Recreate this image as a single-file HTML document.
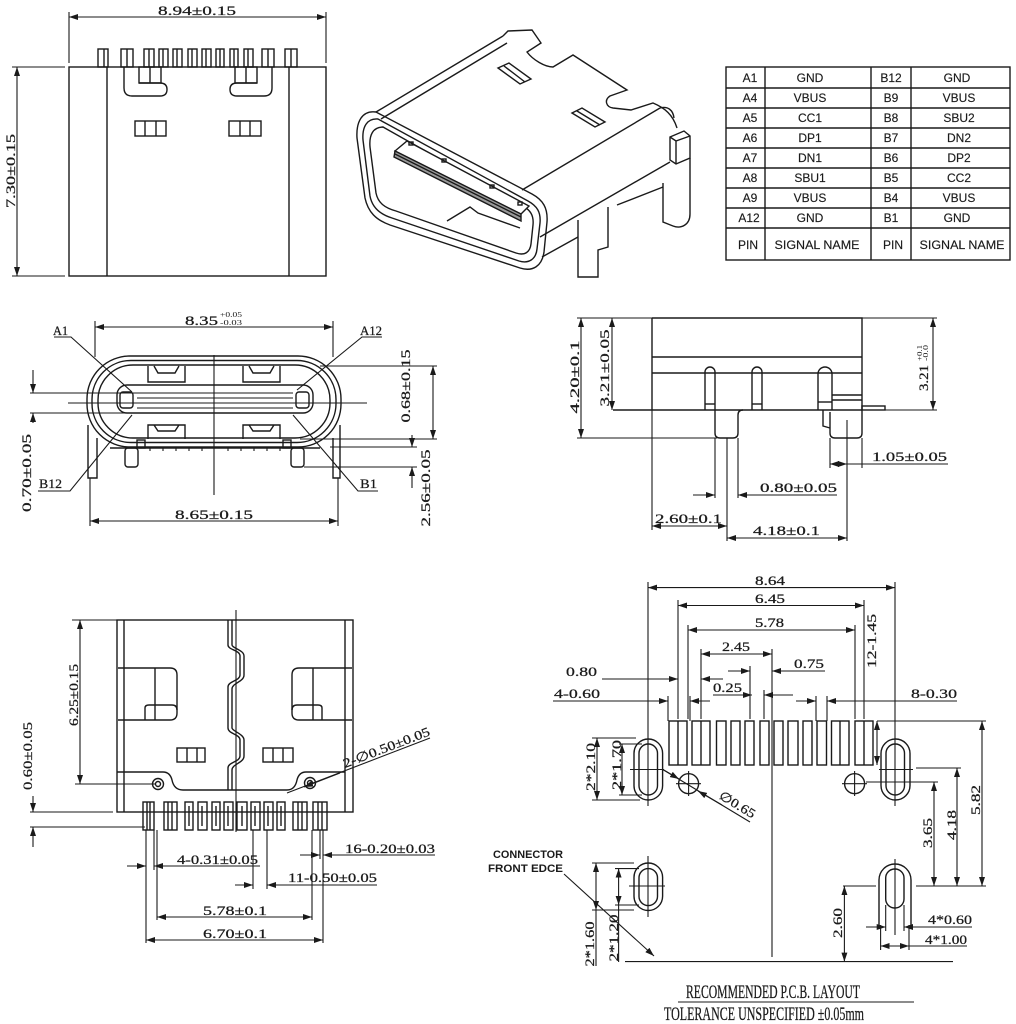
<!DOCTYPE html>
<html><head><meta charset="utf-8"><style>
html,body{margin:0;padding:0;background:#fff}
svg{display:block}
.l{stroke:#1a1a1a;stroke-width:1.4;fill:none}
.d{stroke:#1a1a1a;stroke-width:1.1;fill:none}
.b{marker-start:url(#a);marker-end:url(#a)}
.e{marker-end:url(#a)}
text{font-family:"Liberation Serif","DejaVu Serif",serif;fill:#1a1a1a;font-size:13px;stroke:#1a1a1a;stroke-width:0.25}
.s{font-family:"Liberation Sans","DejaVu Sans",sans-serif;font-size:12px;stroke-width:0.15}
.cn{font-family:"Liberation Sans","DejaVu Sans",sans-serif;font-size:11px;font-weight:bold;stroke-width:0}
.sm{font-size:7px;stroke-width:0}
text.ti{font-size:19px}
</style></head><body>
<svg width="1016" height="1024" viewBox="0 0 1016 1024" xmlns="http://www.w3.org/2000/svg">
<defs><marker id="a" viewBox="0 0 9 6" refX="9" refY="3" markerWidth="9" markerHeight="6" markerUnits="userSpaceOnUse" orient="auto-start-reverse"><path d="M0,0L9,3L0,6z" fill="#1a1a1a"/></marker></defs>
<rect width="1016" height="1024" fill="#fff"/>

<!-- ===== TOP-LEFT VIEW ===== -->
<g class="l">
<rect x="69" y="67" width="257" height="209"/>
<line x1="107" y1="67" x2="107" y2="276"/>
<line x1="289" y1="67" x2="289" y2="276"/>
<rect x="98" y="49" width="10" height="18"/><line x1="104" y1="49" x2="104" y2="67"/>
<rect x="121" y="49" width="12" height="18"/><line x1="127" y1="49" x2="127" y2="67"/>
<rect x="144" y="49" width="10" height="18"/><line x1="149" y1="49" x2="149" y2="67"/>
<rect x="159" y="49" width="9" height="18"/><line x1="163" y1="49" x2="163" y2="67"/>
<rect x="173" y="49" width="9" height="18"/><line x1="177" y1="49" x2="177" y2="67"/>
<rect x="188" y="49" width="9" height="18"/><line x1="192" y1="49" x2="192" y2="67"/>
<rect x="202" y="49" width="9" height="18"/><line x1="206" y1="49" x2="206" y2="67"/>
<rect x="216" y="49" width="8" height="18"/><line x1="220" y1="49" x2="220" y2="67"/>
<rect x="230" y="49" width="8" height="18"/><line x1="234" y1="49" x2="234" y2="67"/>
<rect x="244" y="49" width="9" height="18"/><line x1="248" y1="49" x2="248" y2="67"/>
<rect x="262" y="49" width="12" height="18"/><line x1="268" y1="49" x2="268" y2="67"/>
<rect x="285" y="49" width="12" height="18"/><line x1="291" y1="49" x2="291" y2="67"/>
<path d="M124,67 V88 Q124,96 132,96 H160 Q167,96 167,89.5 Q167,83 160,83 H139"/>
<rect x="139" y="67" width="22" height="16"/><line x1="150" y1="67" x2="150" y2="83"/>
<path d="M272,67 V88 Q272,96 264,96 H237 Q230,96 230,89.5 Q230,83 237,83 H257"/>
<rect x="235" y="67" width="22" height="16"/><line x1="246" y1="67" x2="246" y2="83"/>
<rect x="135" y="121" width="31" height="15"/><line x1="145" y1="121" x2="145" y2="136"/><line x1="156" y1="121" x2="156" y2="136"/>
<rect x="229" y="121" width="32" height="15"/><line x1="240" y1="121" x2="240" y2="136"/><line x1="250" y1="121" x2="250" y2="136"/>
</g>
<g class="d">
<line class="b" x1="69" y1="17" x2="326" y2="17"/>
<line x1="69" y1="12" x2="69" y2="63"/><line x1="326" y1="12" x2="326" y2="63"/>
<line class="b" x1="17" y1="67" x2="17" y2="276"/>
<line x1="12" y1="67" x2="65" y2="67"/><line x1="12" y1="276" x2="65" y2="276"/>
</g>
<text x="197" y="15" text-anchor="middle" textLength="78" lengthAdjust="spacingAndGlyphs">8.94±0.15</text>
<text transform="translate(15,171) rotate(-90)" text-anchor="middle" textLength="74" lengthAdjust="spacingAndGlyphs">7.30±0.15</text>

<!-- ===== 3D VIEW ===== -->
<g class="l" stroke-width="1.3">
<path d="M376,112 C362,110 356,122 357,138 L365,198 C368,212 376,220 390,225 L520,268 C533,272 542,266 544,252 L547,222 C548,208 543,200 532,194 Z"/>
<path d="M378,119 C367,118 362,127 363,140 L370,196 C372,207 379,214 392,218 L519,261 C529,264 536,259 537,249 L540,223 C541,212 537,206 528,201 Z"/>
<path d="M383,127 C373,127 369,135 370,147 L376,193 C378,203 385,208 396,211 L516,253 C525,256 530,252 531,244 L533,225 C534,215 530,210 523,206 Z"/>
<polygon points="395,151 407,141 529,206 521,214" fill="#fff"/>
<polygon points="395,151 521,214 521,221 394,157" fill="#999"/>
<line x1="395" y1="154" x2="521" y2="217"/>
<rect x="409" y="142" width="4" height="3"/><rect x="442" y="159" width="4" height="3"/><rect x="490" y="185" width="4" height="3"/><rect x="518" y="202" width="4" height="3"/>
<path d="M447,221 L470,207 L478,213 L520,228"/>
<line x1="376" y1="112" x2="503" y2="36"/>
<line x1="381" y1="119" x2="507" y2="43"/>
<path d="M503,36 L508,31 L532,30 L541,43 L527,52 C533,60 545,67 553,67 L573,55 L627,90 L610,96 C604,100 606,107 613,108 L631,110 L653,103 C665,108 673,115 677,128"/>
<line x1="522" y1="190" x2="660" y2="108"/>
<path d="M660,108 C668,106 673,110 674,118"/>
<path d="M670,137 L684,131 L690,136 L690,158 L676,164 L670,160 Z"/>
<path d="M670,137 L676,141 L690,136 M676,141 V164"/>
<path d="M690,158 L690,214 C690,225 681,229 673,226 L663,222 L663,183"/>
<line x1="540" y1="237" x2="670" y2="162"/>
<line x1="542" y1="257" x2="578" y2="237"/>
<line x1="617" y1="205" x2="663" y2="187"/>
<path d="M578,220 L578,277 L598,277 L598,250 L608,247 L608,207"/>
<path d="M498,68 L509,63 L531,79 L520,84 Z M504,66 L525,82"/>
<path d="M572,113 L582,108 L605,122 L595,127 Z M577,111 L600,125"/>
</g>

<!-- ===== PIN TABLE ===== -->
<g class="l" stroke-width="1.5">
<rect x="726" y="67" width="284" height="193"/>
<line x1="765" y1="67" x2="765" y2="260"/>
<line x1="871" y1="67" x2="871" y2="260"/>
<line x1="911" y1="67" x2="911" y2="260"/>
<line x1="726" y1="88" x2="1010" y2="88"/>
<line x1="726" y1="108" x2="1010" y2="108"/>
<line x1="726" y1="128" x2="1010" y2="128"/>
<line x1="726" y1="148" x2="1010" y2="148"/>
<line x1="726" y1="168" x2="1010" y2="168"/>
<line x1="726" y1="188" x2="1010" y2="188"/>
<line x1="726" y1="208" x2="1010" y2="208"/>
<line x1="726" y1="228" x2="1010" y2="228"/>
</g>
<g text-anchor="middle">
<text class="s" x="750" y="82">A1</text><text class="s" x="810" y="82">GND</text><text class="s" x="891" y="82">B12</text><text class="s" x="957" y="82">GND</text>
<text class="s" x="750" y="102">A4</text><text class="s" x="810" y="102">VBUS</text><text class="s" x="891" y="102">B9</text><text class="s" x="959" y="102">VBUS</text>
<text class="s" x="750" y="122">A5</text><text class="s" x="810" y="122">CC1</text><text class="s" x="891" y="122">B8</text><text class="s" x="959" y="122">SBU2</text>
<text class="s" x="750" y="142">A6</text><text class="s" x="810" y="142">DP1</text><text class="s" x="891" y="142">B7</text><text class="s" x="959" y="142">DN2</text>
<text class="s" x="750" y="162">A7</text><text class="s" x="810" y="162">DN1</text><text class="s" x="891" y="162">B6</text><text class="s" x="959" y="162">DP2</text>
<text class="s" x="750" y="182">A8</text><text class="s" x="810" y="182">SBU1</text><text class="s" x="891" y="182">B5</text><text class="s" x="959" y="182">CC2</text>
<text class="s" x="750" y="202">A9</text><text class="s" x="810" y="202">VBUS</text><text class="s" x="891" y="202">B4</text><text class="s" x="959" y="202">VBUS</text>
<text class="s" x="749" y="222">A12</text><text class="s" x="810" y="222">GND</text><text class="s" x="891" y="222">B1</text><text class="s" x="957" y="222">GND</text>
<text class="s" x="748" y="249">PIN</text><text class="s" x="817" y="249" textLength="85" lengthAdjust="spacingAndGlyphs">SIGNAL NAME</text><text class="s" x="893" y="249">PIN</text><text class="s" x="962" y="249" textLength="85" lengthAdjust="spacingAndGlyphs">SIGNAL NAME</text>
</g>

<!-- ===== FRONT VIEW (middle-left) ===== -->
<g class="l">
<rect x="87" y="356" width="254" height="91" rx="43"/>
<rect x="92" y="360.5" width="244" height="82" rx="39"/>
<rect x="98" y="365" width="232" height="73" rx="35"/>
<rect x="117" y="385" width="196" height="28" rx="10"/>
<rect x="120" y="392" width="13" height="16" rx="3"/>
<rect x="296" y="392" width="13" height="16" rx="3"/>
<path d="M148,366 V382 H185 V366 M154,366 L158,373 H175 L179,366"/>
<path d="M243,366 V382 H280 V366 M249,366 L253,373 H270 L274,366"/>
<path d="M148,439 V425 H185 V439 M154,425 L158,431 H175 L179,425"/>
<path d="M243,439 V425 H280 V439 M249,425 L253,431 H270 L274,425"/>
<rect x="125" y="448" width="13" height="19" rx="3"/>
<rect x="291" y="448" width="13" height="19" rx="3"/>
<rect x="137" y="440" width="8" height="8"/>
<rect x="283" y="440" width="8" height="8"/>
<path d="M88,425 V478 H97 V438"/>
<path d="M340,425 V478 H333 V438"/>
<line x1="110" y1="448" x2="320" y2="448"/>
</g>
<g class="d">
<line x1="137" y1="393" x2="293" y2="393"/>
<line x1="137" y1="398" x2="293" y2="398"/>
<line x1="137" y1="408" x2="293" y2="408"/>
<path d="M150,448 v3 M163,448 v3 M176,448 v3 M189,448 v3 M202,448 v3 M228,448 v3 M241,448 v3 M254,448 v3 M267,448 v3 M280,448 v3"/>
<line class="b" x1="95" y1="327" x2="333" y2="327"/>
<line x1="95" y1="321" x2="95" y2="357"/><line x1="333" y1="321" x2="333" y2="357"/>
<line class="b" x1="90" y1="521" x2="338" y2="521"/>
<line x1="90" y1="478" x2="90" y2="526"/><line x1="338" y1="478" x2="338" y2="526"/>
<line x1="214" y1="355" x2="214" y2="495"/>
<line x1="68" y1="403" x2="367" y2="403"/>
<line x1="30" y1="393" x2="137" y2="393"/>
<line x1="30" y1="413" x2="137" y2="413"/>
<line class="e" x1="33" y1="370" x2="33" y2="393"/>
<line class="e" x1="33" y1="423" x2="33" y2="413"/>
<line x1="320" y1="366" x2="437" y2="366"/>
<line x1="300" y1="439" x2="437" y2="439"/>
<line class="b" x1="433" y1="366" x2="433" y2="439"/>
<line x1="330" y1="447" x2="417" y2="447"/>
<line x1="304" y1="467" x2="417" y2="467"/>
<line class="e" x1="412" y1="435" x2="412" y2="447"/>
<line class="e" x1="412" y1="488" x2="412" y2="467"/>
<polyline points="54,337 71,337 132,392"/>
<polyline points="382,337 362,337 297,390"/>
<polyline points="38,491 70,491 132,415"/>
<polyline points="378,491 358,491 293,415"/>
</g>
<text x="185" y="325" textLength="33" lengthAdjust="spacingAndGlyphs">8.35</text>
<text class="sm" x="220" y="317" textLength="22" lengthAdjust="spacingAndGlyphs">+0.05</text>
<text class="sm" x="220" y="325" textLength="22" lengthAdjust="spacingAndGlyphs">-0.03</text>
<text x="53" y="335" textLength="15" lengthAdjust="spacingAndGlyphs">A1</text>
<text x="360" y="335" textLength="22" lengthAdjust="spacingAndGlyphs">A12</text>
<text x="39" y="488" textLength="23" lengthAdjust="spacingAndGlyphs">B12</text>
<text x="360" y="488" textLength="17" lengthAdjust="spacingAndGlyphs">B1</text>
<text transform="translate(31,473) rotate(-90)" text-anchor="middle" textLength="78" lengthAdjust="spacingAndGlyphs">0.70±0.05</text>
<text transform="translate(410,386) rotate(-90)" text-anchor="middle" textLength="73" lengthAdjust="spacingAndGlyphs">0.68±0.15</text>
<text transform="translate(430,488) rotate(-90)" text-anchor="middle" textLength="77" lengthAdjust="spacingAndGlyphs">2.56±0.05</text>
<text x="214" y="519" text-anchor="middle" textLength="78" lengthAdjust="spacingAndGlyphs">8.65±0.15</text>

<!-- ===== SIDE VIEW (middle-right) ===== -->
<g class="l">
<path d="M652,318 H862 V410 M652,318 V410"/>
<line x1="652" y1="357" x2="862" y2="357"/>
<line x1="652" y1="373" x2="862" y2="373"/>
<line x1="613" y1="410" x2="862" y2="410"/>
<path d="M705,410 V372 A5,5 0 0 1 715,372 V410"/>
<line x1="705" y1="404" x2="715" y2="404"/>
<path d="M752,410 V372 A5,5 0 0 1 762,372 V410"/>
<line x1="752" y1="404" x2="762" y2="404"/>
<path d="M818,410 V374 A7,7 0 0 1 832,374 V410"/>
<line x1="818" y1="402" x2="832" y2="402"/>
<line x1="832" y1="395" x2="862" y2="395"/>
<line x1="832" y1="400" x2="862" y2="400"/>
<rect x="862" y="406" width="23" height="4"/>
<path d="M715,410 V433 Q715,438 720,438 H733 Q738,438 738,433 V415 Q738,410 743,410"/>
<path d="M830,412 V433 Q830,438 835,438 H857 Q862,438 862,433 V410"/>
<path d="M823,410 V426 L830,428"/>
</g>
<g class="d">
<line x1="577" y1="318" x2="652" y2="318"/>
<line x1="862" y1="318" x2="937" y2="318"/>
<line x1="885" y1="410" x2="937" y2="410"/>
<line x1="577" y1="438" x2="717" y2="438"/>
<line class="b" x1="581" y1="318" x2="581" y2="438"/>
<line class="b" x1="612" y1="318" x2="612" y2="410"/>
<line class="b" x1="933" y1="318" x2="933" y2="410"/>
<line x1="715" y1="438" x2="715" y2="498"/>
<line x1="738" y1="438" x2="738" y2="498"/>
<line x1="727" y1="438" x2="727" y2="541"/>
<line x1="652" y1="410" x2="652" y2="530"/>
<line x1="847" y1="420" x2="847" y2="541"/>
<line x1="830" y1="438" x2="830" y2="468"/>
<line x1="862" y1="438" x2="862" y2="468"/>
<line class="b" x1="830" y1="464" x2="847" y2="464"/>
<line x1="847" y1="464" x2="948" y2="464"/>
<line class="e" x1="693" y1="495" x2="715" y2="495"/>
<line class="e" x1="837" y1="495" x2="738" y2="495"/>
<line class="b" x1="652" y1="526" x2="727" y2="526"/>
<line class="b" x1="727" y1="538" x2="847" y2="538"/>
</g>
<text transform="translate(579,377) rotate(-90)" text-anchor="middle" textLength="73" lengthAdjust="spacingAndGlyphs">4.20±0.1</text>
<text transform="translate(609,368) rotate(-90)" text-anchor="middle" textLength="77" lengthAdjust="spacingAndGlyphs">3.21±0.05</text>
<text transform="translate(928,378) rotate(-90)" text-anchor="middle" textLength="26" lengthAdjust="spacingAndGlyphs">3.21</text>
<text class="sm" transform="translate(922,353) rotate(-90)" text-anchor="middle" textLength="16" lengthAdjust="spacingAndGlyphs">+0.1</text>
<text class="sm" transform="translate(928,353) rotate(-90)" text-anchor="middle" textLength="16" lengthAdjust="spacingAndGlyphs">-0.0</text>
<text x="872" y="461" textLength="75" lengthAdjust="spacingAndGlyphs">1.05±0.05</text>
<text x="760" y="492" textLength="77" lengthAdjust="spacingAndGlyphs">0.80±0.05</text>
<text x="655" y="523" textLength="67" lengthAdjust="spacingAndGlyphs">2.60±0.1</text>
<text x="753" y="535" textLength="67" lengthAdjust="spacingAndGlyphs">4.18±0.1</text>

<!-- ===== BOTTOM VIEW (bottom-left) ===== -->
<g class="l">
<rect x="117" y="620" width="236" height="192"/>
<line x1="124" y1="620" x2="124" y2="812"/>
<line x1="345" y1="620" x2="345" y2="812"/>
<path d="M228,620 V645 C228,650 240,650 240,656 V675 C240,681 228,681 228,687 V728 C228,734 240,734 240,740 V756 C240,762 228,762 228,768 V790"/>
<path d="M232,620 V645 C232,648 244,650 244,656 V675 C244,682 232,683 232,689 V728 C232,731 244,734 244,740 V756 C244,763 232,764 232,770 V790"/>
<path d="M118,668 H170 Q177,668 177,675 V713 Q177,720 170,720 H118"/>
<line x1="155" y1="668" x2="155" y2="720"/>
<path d="M145,720 V708 Q145,705 149,705 H172 Q177,705 177,710"/>
<path d="M352,668 H299 Q292,668 292,675 V713 Q292,720 299,720 H352"/>
<line x1="313" y1="668" x2="313" y2="720"/>
<path d="M322,720 V708 Q322,705 318,705 H297 Q292,705 292,710"/>
<rect x="177" y="748" width="28" height="14"/><line x1="187" y1="748" x2="187" y2="762"/><line x1="197" y1="748" x2="197" y2="762"/>
<rect x="263" y="748" width="30" height="14"/><line x1="273" y1="748" x2="273" y2="762"/><line x1="283" y1="748" x2="283" y2="762"/>
<path d="M117,772 H163 Q170,772 172,780 Q174,790 183,790 H287 Q295,790 297,780 Q299,772 306,772 H345"/>
<circle cx="158" cy="784" r="5.5"/><circle cx="158" cy="784" r="2.5"/>
<circle cx="310" cy="783" r="5.5"/><circle cx="310" cy="783" r="2.5"/>
<rect x="143" y="802" width="11" height="28"/><line x1="147" y1="802" x2="147" y2="830"/><line x1="150" y1="802" x2="150" y2="830"/>
<rect x="164" y="802" width="13" height="28"/><line x1="168" y1="802" x2="168" y2="830"/><line x1="172" y1="802" x2="172" y2="830"/>
<rect x="185" y="802" width="8" height="28"/><line x1="189" y1="806" x2="189" y2="826"/>
<rect x="198" y="802" width="9" height="28"/><line x1="202" y1="806" x2="202" y2="826"/>
<rect x="212" y="802" width="8" height="28"/><line x1="216" y1="806" x2="216" y2="826"/>
<rect x="224" y="802" width="9" height="28"/><line x1="228" y1="806" x2="228" y2="826"/>
<rect x="237" y="802" width="10" height="28"/><line x1="242" y1="806" x2="242" y2="826"/>
<rect x="251" y="802" width="9" height="28"/><line x1="255" y1="806" x2="255" y2="826"/>
<rect x="264" y="802" width="9" height="28"/><line x1="268" y1="806" x2="268" y2="826"/>
<rect x="277" y="802" width="8" height="28"/><line x1="281" y1="806" x2="281" y2="826"/>
<rect x="293" y="802" width="14" height="28"/><line x1="298" y1="802" x2="298" y2="830"/><line x1="302" y1="802" x2="302" y2="830"/>
<rect x="313" y="802" width="14" height="28"/><line x1="318" y1="802" x2="318" y2="830"/><line x1="322" y1="802" x2="322" y2="830"/>
</g>
<g class="d">
<line x1="236" y1="610" x2="236" y2="832"/>
<line x1="72" y1="620" x2="117" y2="620"/>
<line x1="75" y1="784" x2="155" y2="784"/>
<line class="b" x1="80" y1="620" x2="80" y2="784"/>
<line x1="30" y1="812" x2="113" y2="812"/>
<line x1="30" y1="827" x2="145" y2="827"/>
<line class="e" x1="33" y1="796" x2="33" y2="812"/>
<line class="e" x1="33" y1="847" x2="33" y2="827"/>
<line x1="430" y1="738" x2="287" y2="793"/>
<line class="e" x1="340" y1="773" x2="304" y2="787"/>
<line x1="146" y1="830" x2="146" y2="943"/>
<line x1="154" y1="830" x2="154" y2="870"/>
<line x1="157" y1="830" x2="157" y2="920"/>
<line x1="253" y1="830" x2="253" y2="889"/>
<line x1="267" y1="830" x2="267" y2="889"/>
<line x1="312" y1="830" x2="312" y2="920"/>
<line x1="320" y1="830" x2="320" y2="859"/>
<line x1="323" y1="830" x2="323" y2="943"/>
<line class="e" x1="127" y1="866" x2="146" y2="866"/>
<line class="e" x1="260" y1="866" x2="154" y2="866"/>
<line class="e" x1="300" y1="855" x2="320" y2="855"/>
<line class="e" x1="435" y1="855" x2="323" y2="855"/>
<line class="e" x1="235" y1="885" x2="253" y2="885"/>
<line class="e" x1="377" y1="885" x2="267" y2="885"/>
<line class="b" x1="157" y1="917" x2="312" y2="917"/>
<line class="b" x1="146" y1="940" x2="323" y2="940"/>
</g>
<text transform="translate(78,695) rotate(-90)" text-anchor="middle" textLength="62" lengthAdjust="spacingAndGlyphs">6.25±0.15</text>
<text transform="translate(32,756) rotate(-90)" text-anchor="middle" textLength="68" lengthAdjust="spacingAndGlyphs">0.60±0.05</text>
<text transform="translate(345,768) rotate(-21)" textLength="92" lengthAdjust="spacingAndGlyphs">2-∅0.50±0.05</text>
<text x="177" y="864" textLength="81" lengthAdjust="spacingAndGlyphs">4-0.31±0.05</text>
<text x="345" y="853" textLength="90" lengthAdjust="spacingAndGlyphs">16-0.20±0.03</text>
<text x="288" y="882" textLength="89" lengthAdjust="spacingAndGlyphs">11-0.50±0.05</text>
<text x="203" y="915" textLength="64" lengthAdjust="spacingAndGlyphs">5.78±0.1</text>
<text x="203" y="938" textLength="64" lengthAdjust="spacingAndGlyphs">6.70±0.1</text>

<!-- ===== PCB LAYOUT ===== -->
<g class="l">
<rect x="669" y="721" width="18" height="44"/><line x1="678" y1="721" x2="678" y2="765"/>
<rect x="692" y="721" width="18" height="44"/><line x1="701" y1="721" x2="701" y2="765"/>
<rect x="716.5" y="721" width="9.5" height="44"/>
<rect x="731" y="721" width="9" height="44"/>
<rect x="745" y="721" width="9" height="44"/>
<rect x="760" y="721" width="9" height="44"/>
<rect x="774" y="721" width="9" height="44"/>
<rect x="788" y="721" width="10" height="44"/>
<rect x="803" y="721" width="9" height="44"/>
<rect x="817" y="721" width="9.5" height="44"/>
<rect x="831.5" y="721" width="17.5" height="44"/><line x1="840" y1="721" x2="840" y2="765"/>
<rect x="855" y="721" width="18" height="44"/><line x1="864" y1="721" x2="864" y2="765"/>
<rect x="634" y="739" width="28.6" height="61" rx="14.3"/>
<rect x="639" y="744" width="18.5" height="51" rx="9.2"/>
<rect x="881" y="739" width="29" height="61" rx="14.5"/>
<rect x="886" y="744" width="18.5" height="51" rx="9.2"/>
<circle cx="688.6" cy="783.7" r="10"/>
<circle cx="854.6" cy="783.7" r="10"/>
<rect x="634" y="863" width="28.6" height="47.5" rx="14.3"/>
<rect x="639" y="868.6" width="18.5" height="37" rx="9.2"/>
<path d="M879,927 V880 A16,16 0 0 1 911,880 V927"/>
<rect x="885.7" y="869" width="18.3" height="39" rx="9"/>
</g>
<g class="d">
<line class="b" x1="648" y1="587.6" x2="895" y2="587.6"/>
<line class="b" x1="678" y1="605.5" x2="864" y2="605.5"/>
<line class="b" x1="688" y1="630" x2="855" y2="630"/>
<line class="b" x1="701" y1="654" x2="772" y2="654"/>
<line x1="648" y1="582" x2="648" y2="806"/>
<line x1="895" y1="582" x2="895" y2="806"/>
<line x1="678" y1="600" x2="678" y2="719"/>
<line x1="864" y1="600" x2="864" y2="719"/>
<line x1="688" y1="625" x2="688" y2="719"/>
<line x1="855" y1="625" x2="855" y2="719"/>
<line x1="701" y1="649" x2="701" y2="719"/>
<line x1="772" y1="649" x2="772" y2="957"/>
<line x1="750" y1="666" x2="750" y2="719"/>
<line x1="764" y1="690" x2="764" y2="719"/>
<line x1="668" y1="696" x2="668" y2="721"/>
<line x1="690" y1="696" x2="690" y2="721"/>
<line x1="816" y1="696" x2="816" y2="721"/>
<line x1="827" y1="696" x2="827" y2="721"/>
<line class="e" x1="728" y1="671" x2="750" y2="671"/>
<line class="e" x1="825" y1="671" x2="772" y2="671"/>
<line class="e" x1="602" y1="679" x2="678" y2="679"/>
<line class="e" x1="723" y1="679" x2="701" y2="679"/>
<line class="e" x1="713" y1="695" x2="752" y2="695"/>
<line class="e" x1="793" y1="695" x2="764" y2="695"/>
<line class="e" x1="553" y1="701" x2="668" y2="701"/>
<line class="e" x1="710" y1="701" x2="690" y2="701"/>
<line class="e" x1="796" y1="701" x2="816" y2="701"/>
<line class="e" x1="957" y1="701" x2="827" y2="701"/>
<line class="b" x1="877" y1="721" x2="877" y2="765"/>
<line x1="630" y1="769.5" x2="664" y2="769.5"/>
<line x1="879" y1="769.5" x2="913" y2="769.5"/>
<line x1="676" y1="783.7" x2="701" y2="783.7"/><line x1="688.6" y1="771" x2="688.6" y2="796"/>
<line x1="842" y1="783.7" x2="867" y2="783.7"/><line x1="854.6" y1="771" x2="854.6" y2="796"/>
<line x1="662" y1="769" x2="750" y2="822"/>
<line class="e" x1="662" y1="769" x2="679" y2="779"/>
<line class="e" x1="722" y1="805" x2="698" y2="791"/>
<line x1="592" y1="738" x2="636" y2="738"/>
<line x1="592" y1="800" x2="640" y2="800"/>
<line class="b" x1="597" y1="738" x2="597" y2="800"/>
<line x1="619" y1="744" x2="642" y2="744"/>
<line x1="619" y1="795" x2="642" y2="795"/>
<line class="b" x1="622" y1="744" x2="622" y2="795"/>
<line x1="877" y1="721" x2="986" y2="721"/>
<line x1="916" y1="768" x2="961" y2="768"/>
<line x1="866" y1="782" x2="938" y2="782"/>
<line x1="916" y1="886" x2="986" y2="886"/>
<line x1="843" y1="886" x2="876" y2="886"/>
<line class="b" x1="982" y1="721" x2="982" y2="886"/>
<line class="b" x1="957" y1="768" x2="957" y2="886"/>
<line class="b" x1="934" y1="782" x2="934" y2="886"/>
<line x1="629" y1="886" x2="665" y2="886"/>
<line x1="648" y1="856" x2="648" y2="917"/>
<line x1="895" y1="859" x2="895" y2="935"/>
<line x1="592" y1="863" x2="634" y2="863"/>
<line x1="592" y1="910" x2="634" y2="910"/>
<line x1="615" y1="868.6" x2="639" y2="868.6"/>
<line x1="615" y1="905" x2="639" y2="905"/>
<line class="b" x1="596" y1="863" x2="596" y2="910"/>
<line x1="596" y1="910" x2="596" y2="966"/>
<line class="b" x1="618.6" y1="868.6" x2="618.6" y2="905"/>
<line x1="618.6" y1="905" x2="618.6" y2="962"/>
<line x1="625" y1="961.6" x2="953" y2="961.6"/>
<line class="b" x1="844.4" y1="886" x2="844.4" y2="961.6"/>
<line x1="885.7" y1="905" x2="885.7" y2="931"/>
<line x1="904" y1="905" x2="904" y2="931"/>
<line x1="880.6" y1="925" x2="880.6" y2="950"/>
<line x1="909" y1="925" x2="909" y2="950"/>
<line class="e" x1="866" y1="927" x2="885.7" y2="927"/>
<line class="e" x1="972" y1="927" x2="904" y2="927"/>
<line class="b" x1="880.6" y1="946" x2="909" y2="946"/>
<line x1="909" y1="946" x2="967" y2="946"/>
<line class="e" x1="564" y1="874" x2="654" y2="956"/>
<line x1="678" y1="1002" x2="914" y2="1002"/>
</g>
<text x="755" y="585" textLength="30" lengthAdjust="spacingAndGlyphs">8.64</text>
<text x="755" y="603" textLength="30" lengthAdjust="spacingAndGlyphs">6.45</text>
<text x="755" y="627" textLength="29" lengthAdjust="spacingAndGlyphs">5.78</text>
<text x="722" y="651" textLength="28" lengthAdjust="spacingAndGlyphs">2.45</text>
<text x="794" y="668" textLength="30" lengthAdjust="spacingAndGlyphs">0.75</text>
<text x="566" y="676" textLength="31" lengthAdjust="spacingAndGlyphs">0.80</text>
<text x="713" y="692" textLength="29" lengthAdjust="spacingAndGlyphs">0.25</text>
<text x="554" y="698" textLength="46" lengthAdjust="spacingAndGlyphs">4-0.60</text>
<text x="911" y="698" textLength="46" lengthAdjust="spacingAndGlyphs">8-0.30</text>
<text transform="translate(876,641) rotate(-90)" text-anchor="middle" textLength="54" lengthAdjust="spacingAndGlyphs">12-1.45</text>
<text transform="translate(595,767) rotate(-90)" text-anchor="middle" textLength="48" lengthAdjust="spacingAndGlyphs">2*2.10</text>
<text transform="translate(621,765) rotate(-90)" text-anchor="middle" textLength="50" lengthAdjust="spacingAndGlyphs">2*1.70</text>
<text transform="translate(718,798) rotate(31)" textLength="40" lengthAdjust="spacingAndGlyphs">∅0.65</text>
<text class="cn" x="493" y="858" textLength="70" lengthAdjust="spacingAndGlyphs">CONNECTOR</text>
<text class="cn" x="488" y="872" textLength="75" lengthAdjust="spacingAndGlyphs">FRONT EDCE</text>
<text transform="translate(594,944) rotate(-90)" text-anchor="middle" textLength="45" lengthAdjust="spacingAndGlyphs">2*1.60</text>
<text transform="translate(618,938) rotate(-90)" text-anchor="middle" textLength="47" lengthAdjust="spacingAndGlyphs">2*1.20</text>
<text transform="translate(842,923) rotate(-90)" text-anchor="middle" textLength="30" lengthAdjust="spacingAndGlyphs">2.60</text>
<text x="928" y="924" textLength="44" lengthAdjust="spacingAndGlyphs">4*0.60</text>
<text x="925" y="944" textLength="42" lengthAdjust="spacingAndGlyphs">4*1.00</text>
<text transform="translate(932,833) rotate(-90)" text-anchor="middle" textLength="30" lengthAdjust="spacingAndGlyphs">3.65</text>
<text transform="translate(956,825) rotate(-90)" text-anchor="middle" textLength="30" lengthAdjust="spacingAndGlyphs">4.18</text>
<text transform="translate(980,800) rotate(-90)" text-anchor="middle" textLength="30" lengthAdjust="spacingAndGlyphs">5.82</text>
<text class="ti" x="686" y="998" textLength="174" lengthAdjust="spacingAndGlyphs">RECOMMENDED  P.C.B.  LAYOUT</text>
<text class="ti" x="664" y="1020" textLength="200" lengthAdjust="spacingAndGlyphs">TOLERANCE UNSPECIFIED ±0.05mm</text>
</svg>
</body></html>
